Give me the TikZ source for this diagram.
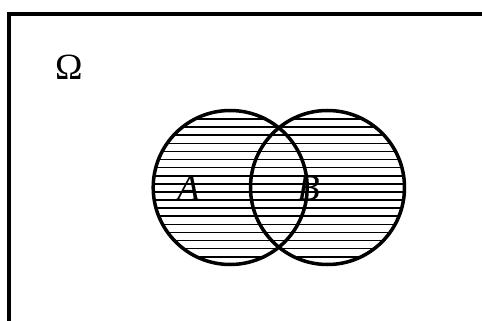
\documentclass[tikz,border=0pt]{standalone}
\usepackage{fontspec}
\setmainfont{Liberation Serif}
\begin{document}
\begin{tikzpicture}[x=1pt,y=-1pt,
  frame/.style={line width=3.5pt},
  setcirc/.style={line width=3.5pt},
  hatch/.style={line width=1.6pt},
  lbl/.style={font=\fontsize{37}{42}\selectfont, inner sep=0pt, anchor=base west}]
\useasboundingbox (0,0) rectangle (482,321);
\clip (0,0) rectangle (482,321);
\fill[white] (0,0) rectangle (482,321);
\draw[frame] (9,14) rectangle (520,360);
\coordinate (ca) at (230.2,187.5);
\coordinate (cb) at (327.5,187.5);
\begin{scope}
  \clip (ca) circle (77) (cb) circle (77);
  \foreach \k in {-11,...,9} {
    \draw[hatch] (140,{200+8.1*\k}) -- (420,{200+8.1*\k});
  }
\end{scope}
\draw[setcirc] (ca) circle (77);
\draw[setcirc] (cb) circle (77);
\node[lbl] (la) at (177,200) {\textit{A}};
\node[lbl] (lb) at (297,200) {\textit{B}};
\node[lbl] (om) at (55,80) {Ω};
\end{tikzpicture}
\end{document}
